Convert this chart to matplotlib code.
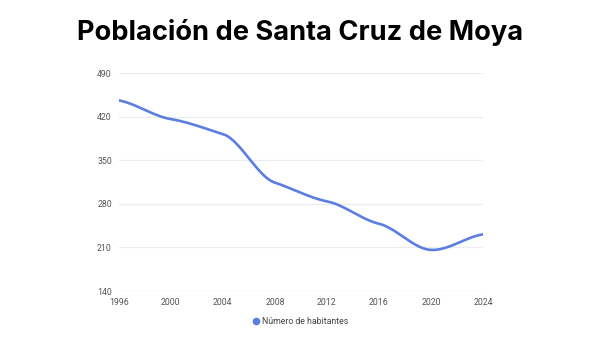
import numpy as np
import matplotlib
matplotlib.use("Agg")
import matplotlib.pyplot as plt
from matplotlib.lines import Line2D

years = [1996, 2000, 2004, 2008, 2012, 2016, 2020, 2024]
habitantes = [446, 416, 392, 314, 284, 248, 206, 231]
y_ticks = [140, 210, 280, 350, 420, 490]
x_ticks = [1996, 2000, 2004, 2008, 2012, 2016, 2020, 2024]

title = "Población de Santa Cruz de Moya"
series_name = "Número de habitantes"
line_color = "#5b7ee0"


def smooth_curve(x, y, tension=0.5, n=40):
    """Cubic Hermite curve through the points with damped tangents."""
    x = np.asarray(x, float)
    y = np.asarray(y, float)
    m = np.zeros_like(y)
    m[1:-1] = (y[2:] - y[:-2]) / (x[2:] - x[:-2]) * tension
    m[0] = (y[1] - y[0]) / (x[1] - x[0]) * tension
    m[-1] = (y[-1] - y[-2]) / (x[-1] - x[-2]) * tension
    xs, ys = [], []
    for i in range(len(x) - 1):
        h = x[i + 1] - x[i]
        t = np.linspace(0, 1, n, endpoint=(i == len(x) - 2))
        h00 = 2 * t**3 - 3 * t**2 + 1
        h10 = t**3 - 2 * t**2 + t
        h01 = -2 * t**3 + 3 * t**2
        h11 = t**3 - t**2
        xs.append(x[i] + t * h)
        ys.append(h00 * y[i] + h10 * h * m[i] + h01 * y[i + 1] + h11 * h * m[i + 1])
    return np.concatenate(xs), np.concatenate(ys)


fig = plt.figure(figsize=(6, 3.38), dpi=100)
ax = fig.add_axes([0.198, 0.139, 0.607, 0.645])

sx, sy = smooth_curve(years, habitantes)
ax.plot(sx, sy, color=line_color, lw=1.9, solid_capstyle="round", zorder=3)

ax.set_xlim(years[0], years[-1])
ax.set_ylim(y_ticks[0], y_ticks[-1])
ax.set_yticks(y_ticks)
ax.set_xticks(x_ticks)
ax.set_xticklabels([str(v) for v in x_ticks])
ax.set_yticklabels([str(v) for v in y_ticks])

ax.grid(axis="y", color="#ececec", lw=0.8, zorder=0)
for s in ax.spines.values():
    s.set_visible(False)
ax.axhline(y_ticks[0], color="#d8d8d8", lw=0.8, zorder=1)

ax.tick_params(axis="both", length=0, labelsize=6.3, labelcolor="#555555")
ax.tick_params(axis="y", pad=5)
ax.tick_params(axis="x", pad=5)
for lbl in ax.get_xticklabels() + ax.get_yticklabels():
    lbl.set_fontfamily("Roboto")

fig.text(0.5, 0.905, title, ha="center", va="center",
         fontsize=19.6, fontweight="bold", family="Inter", color="#000000")

handle = Line2D([], [], marker="o", linestyle="none", markersize=4.5,
                markerfacecolor=line_color, markeredgecolor=line_color)
fig.legend([handle], [series_name], loc="center", bbox_to_anchor=(0.5, 0.05),
           frameon=False, handletextpad=0.1, handlelength=1.0,
           prop={"family": "Roboto", "size": 6.3}, labelcolor="#444444")

fig.savefig("out.png", dpi=100)
